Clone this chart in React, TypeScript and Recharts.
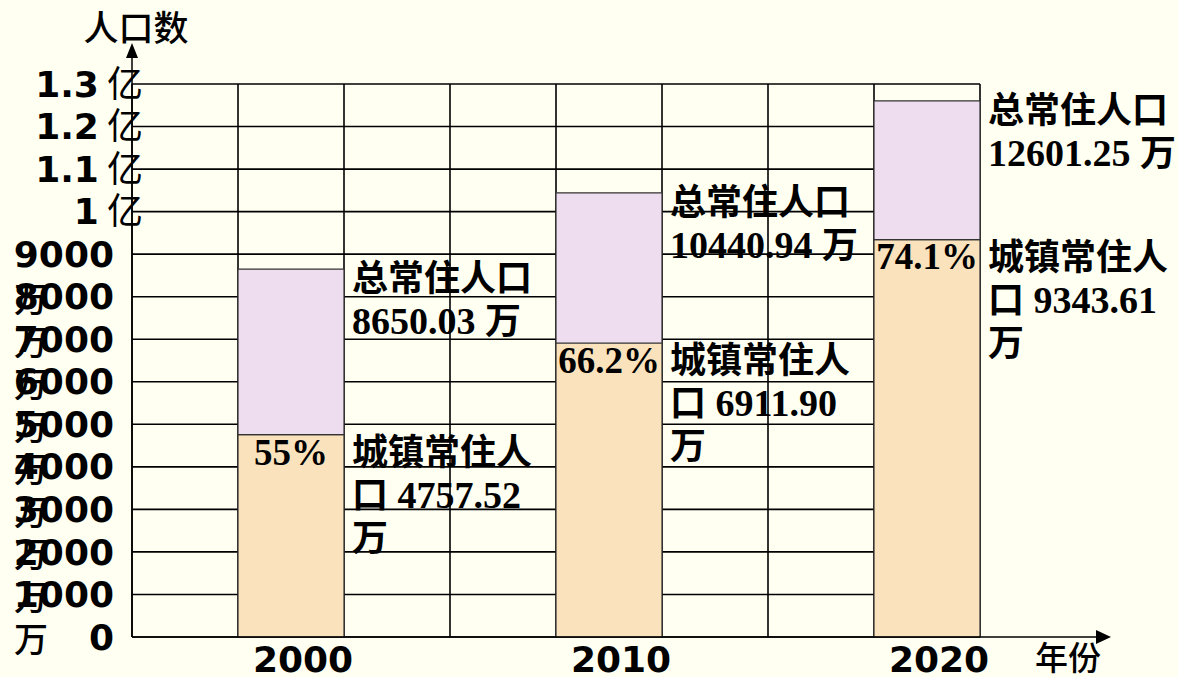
import React from 'react';
import { BarChart, Bar, XAxis, YAxis, CartesianGrid, LabelList } from 'recharts';

const slots = ['s0', '2000', 's2', 's3', '2010', 's5', 's6', '2020'];
const years = ['2000', '2010', '2020'];
const totalPop = [8650.03, 10440.94, 12601.25];
const urbanPop = [4757.52, 6911.9, 9343.61];
const urbanRate = ['55%', '66.2%', '74.1%'];
const yTicks = [0, 1000, 2000, 3000, 4000, 5000, 6000, 7000, 8000, 9000, 10000, 11000, 12000, 13000];

const BG = '#FFFFF2';
const URBAN = '#FAE3BC';
const REST = '#EEDDEE';
const SANS = "'DejaVu Sans', sans-serif";
const CJK = "'Noto Sans CJK SC', sans-serif";
const SERIF = "'Liberation Serif', 'Noto Sans CJK SC', serif";

const table = slots.map((slot) => {
  const i = years.indexOf(slot);
  if (i < 0) return { slot, urban: null, rest: null, total: null, rate: null };
  return { slot, urban: urbanPop[i], rest: totalPop[i] - urbanPop[i], total: totalPop[i], rate: urbanRate[i] };
});

const rowOf = (slot: any) => table.find((r) => r.slot === slot);

const YTick = (props: any) => {
  const { x, y, payload } = props;
  const v = payload.value as number;
  if (v >= 10000) {
    return (
      <text x={x + 11} y={y} dy="0.35em" textAnchor="end" fill="#000" fontSize={36}>
        <tspan fontFamily={SANS} fontWeight="bold">{String(v / 10000)}</tspan>
        <tspan fontFamily={CJK}> 亿</tspan>
      </text>
    );
  }
  return (
    <g>
      <text x={x - 18} y={y} dy="0.35em" textAnchor="end" fill="#000" fontSize={36} fontFamily={SANS} fontWeight="bold">
        {String(v)}
      </text>
      {v > 0 && (
        <text x={x - 118} y={y + 46} dy="0.35em" textAnchor="start" fill="#000" fontSize={34} fontFamily={CJK} fontWeight={500}>
          万
        </text>
      )}
    </g>
  );
};

const XTick = (props: any) => {
  const { x, y, payload } = props;
  const s = payload.value as string;
  if (years.indexOf(s) < 0) return null;
  return (
    <text x={x + 12} y={y + 22} dy="0.35em" textAnchor="middle" fill="#000" fontSize={36} fontFamily={SANS} fontWeight="bold">
      {s}
    </text>
  );
};

const YAxisDecor = (props: any) => {
  const vb = props.viewBox || {};
  const ax = vb.x + vb.width;
  const top = vb.y;
  return (
    <g>
      <line x1={ax} y1={top} x2={ax} y2={top - 30} stroke="#000" strokeWidth={1.5} />
      <polygon points={`${ax},${top - 41} ${ax - 6},${top - 26} ${ax + 6},${top - 26}`} fill="#000" />
      <text x={ax + 4} y={top - 55} dy="0.35em" textAnchor="middle" fontSize={35} fontFamily={CJK} fontWeight={500} fill="#000">
        人口数
      </text>
    </g>
  );
};

const XAxisDecor = (props: any) => {
  const vb = props.viewBox || {};
  const right = vb.x + vb.width;
  const ay = vb.y;
  return (
    <g>
      <line x1={right} y1={ay} x2={right + 120} y2={ay} stroke="#000" strokeWidth={1.5} />
      <polygon points={`${right + 131},${ay} ${right + 116},${ay - 7} ${right + 116},${ay + 7}`} fill="#000" />
      <text x={right + 88} y={ay + 21} dy="0.35em" textAnchor="middle" fontSize={33} fontFamily={CJK} fontWeight={500} fill="#000">
        年份
      </text>
    </g>
  );
};

const TotalLabel = (props: any) => {
  const { x, y, width, value } = props;
  const row = rowOf(value);
  if (!row || row.total == null) return null;
  const x0 = x + width + 8;
  const y0 = y + 9;
  return (
    <text x={x0} y={y0} dy="0.35em" fill="#000" fontSize={38} fontWeight="bold" fontFamily={SERIF}>
      <tspan fontFamily={CJK} fontSize={36}>总常住人口</tspan>
      <tspan x={x0} dy={43}>{row.total.toFixed(2)} </tspan>
      <tspan fontFamily={CJK} fontSize={36}>万</tspan>
    </text>
  );
};

const UrbanLabel = (props: any) => {
  const { x, y, width, value } = props;
  const row = rowOf(value);
  if (!row || row.urban == null) return null;
  const x0 = x + width + 8;
  const y0 = y + 17;
  return (
    <g>
      <text x={x + width / 2} y={y0} dy="0.35em" textAnchor="middle" fill="#000" fontSize={37} fontWeight="bold" fontFamily={SERIF}>
        {row.rate}
      </text>
      <text x={x0} y={y0} dy="0.35em" fill="#000" fontSize={38} fontWeight="bold" fontFamily={SERIF}>
        <tspan fontFamily={CJK} fontSize={36}>城镇常住人</tspan>
        <tspan x={x0} dy={43} fontFamily={CJK} fontSize={36}>口</tspan>
        <tspan> {row.urban.toFixed(2)}</tspan>
        <tspan x={x0} dy={43} fontFamily={CJK} fontSize={36}>万</tspan>
      </text>
    </g>
  );
};

const verticalGen = (p: any) => {
  const off = p.offset || {};
  const n = slots.length;
  const out: number[] = [];
  for (let i = 0; i <= n; i++) out.push(off.left + (i * off.width) / n);
  return out;
};

export default function App() {
  return (
    <div style={{ position: 'fixed', left: 0, top: 0, width: 1178, height: 677, background: BG }}>
      <BarChart
        width={1178}
        height={677}
        data={table}
        margin={{ top: 84, right: 198, bottom: 0, left: 0 }}
        barCategoryGap={0}
        barGap={0}
      >
        <XAxis
          dataKey="slot"
          type="category"
          height={40}
          tickLine={false}
          tickSize={0}
          tickMargin={0}
          interval={0}
          axisLine={{ stroke: '#000', strokeWidth: 1.5 }}
          tick={<XTick />}
          label={<XAxisDecor />}
        />
        <YAxis
          type="number"
          domain={[0, 13000]}
          ticks={yTicks}
          width={132}
          tickLine={false}
          tickSize={0}
          tickMargin={0}
          interval={0}
          axisLine={{ stroke: '#000', strokeWidth: 1.5 }}
          tick={<YTick />}
          label={<YAxisDecor />}
        />
        <Bar dataKey="urban" stackId="p" fill={URBAN} stroke="#333" strokeWidth={1.2} isAnimationActive={false}>
          <LabelList dataKey="slot" content={<UrbanLabel />} />
        </Bar>
        <Bar dataKey="rest" stackId="p" fill={REST} stroke="#333" strokeWidth={1.2} isAnimationActive={false}>
          <LabelList dataKey="slot" content={<TotalLabel />} />
        </Bar>
        <CartesianGrid
          stroke="#000"
          strokeWidth={1.6}
          verticalCoordinatesGenerator={verticalGen}
          fill="none"
        />
      </BarChart>
    </div>
  );
}
